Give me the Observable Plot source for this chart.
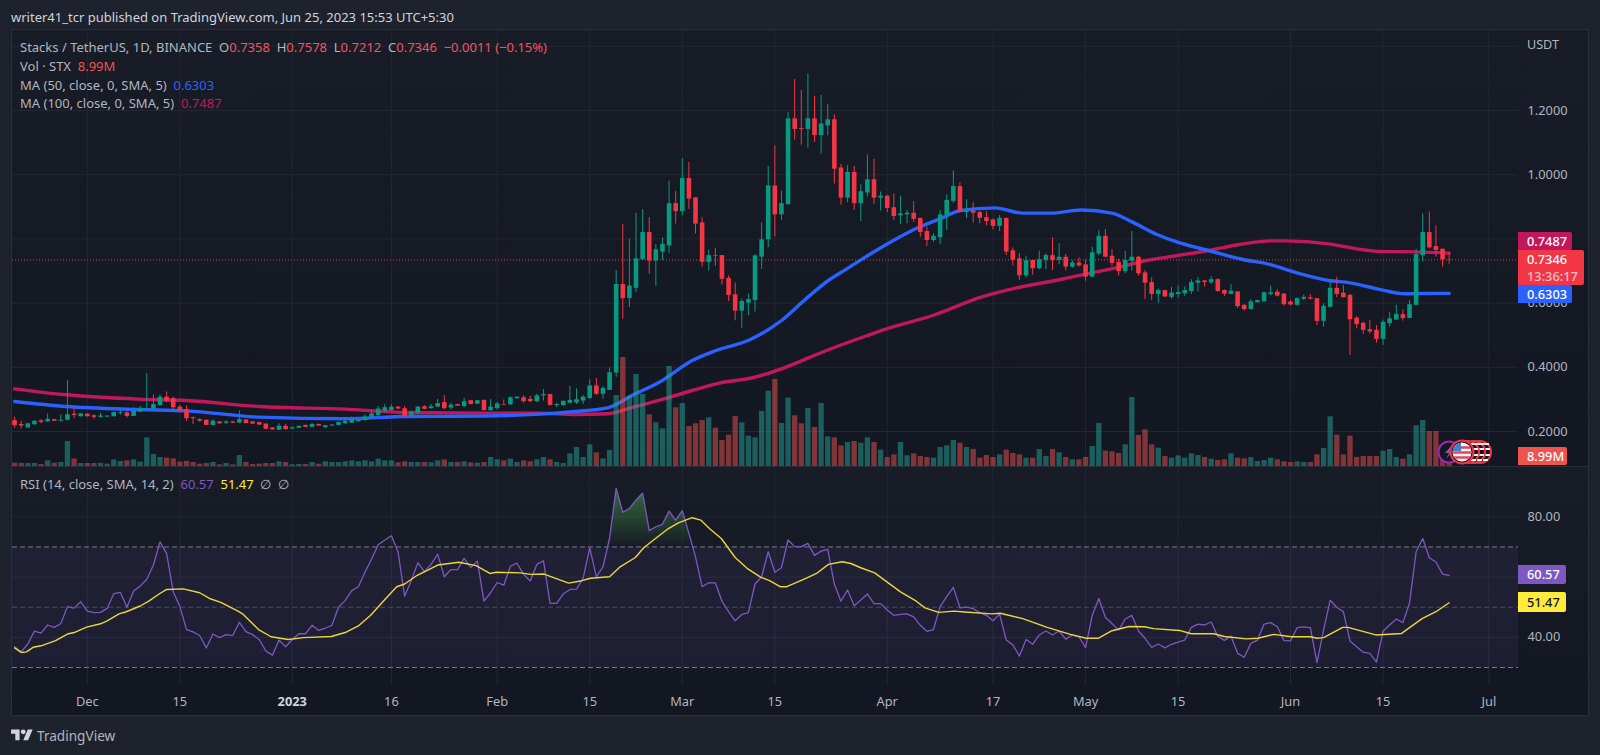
<!DOCTYPE html>
<html><head><meta charset="utf-8">
<script src="https://cdn.jsdelivr.net/npm/d3@7"></script>
<script src="https://cdn.jsdelivr.net/npm/@observablehq/plot@0.6"></script>
<style>
html,body{margin:0;padding:0;background:#1E222D;width:1600px;height:755px;overflow:hidden;font-family:"Noto Sans",sans-serif}
#stage{position:relative;width:1600px;height:755px;overflow:hidden}
.abs{position:absolute}
.plot{position:absolute;left:0}
.lg{position:absolute;left:20px;font-size:13px;line-height:18px;color:#b2b5be;white-space:pre}
.tag{position:absolute;left:1518px;color:#fff;font-size:12.8px;font-weight:500;border-radius:0 2px 2px 0;padding-left:9px;box-sizing:border-box}
</style></head><body><div id="stage"></div>
<script>
const firstDay = "2022-11-20";
const opens = [.234,.222,.211,.221,.233,.230,.237,.232,.235,.254,
.246,.254,.249,.244,.245,.246,.256,.258,.247,.260,
.268,.269,.281,.307,.302,.276,.268,.243,.237,.235,
.219,.230,.226,.230,.226,.236,.230,.228,.223,.211,
.204,.216,.208,.210,.219,.213,.222,.212,.217,.219,
.224,.226,.230,.234,.243,.250,.263,.265,.276,.271,
.249,.257,.277,.271,.276,.290,.273,.284,.278,.296,
.285,.297,.265,.271,.284,.283,.302,.305,.300,.293,
.311,.315,.281,.281,.288,.289,.295,.303,.342,.316,
.328,.382,.658,.614,.646,.735,.820,.731,.759,.778,
.910,.885,.988,.928,.850,.727,.748,.748,.677,.626,
.575,.600,.608,.743,.797,.965,.875,.907,1.174,1.144,
1.141,1.174,1.122,1.152,1.171,1.021,.927,1.007,.910,.943,
.984,.927,.933,.897,.872,.875,.880,.864,.823,.795,
.804,.872,.917,.963,.882,.886,.882,.866,.859,.839,
.864,.763,.738,.685,.733,.707,.733,.748,.733,.743,
.712,.725,.719,.681,.753,.808,.746,.727,.698,.730,
.743,.694,.664,.627,.639,.618,.627,.629,.636,.662,
.669,.663,.673,.639,.627,.635,.593,.580,.601,.604,
.627,.634,.628,.603,.593,.612,.616,.614,.543,.587,
.646,.631,.624,.553,.537,.517,.515,.487,.536,.547,
.564,.552,.593,.748,.820,.776,.768,.7358];
const closes = [.218,.217,.224,.232,.228,.238,.232,.235,.252,.250,
.255,.246,.244,.248,.248,.259,.258,.247,.263,.271,
.270,.284,.307,.294,.274,.263,.240,.240,.232,.219,
.232,.224,.230,.226,.237,.225,.223,.220,.207,.205,
.217,.206,.212,.216,.213,.222,.217,.218,.220,.228,
.231,.236,.236,.245,.255,.270,.274,.276,.270,.248,
.259,.276,.269,.277,.287,.271,.282,.279,.293,.284,
.296,.265,.276,.286,.282,.305,.307,.293,.293,.311,
.315,.281,.284,.294,.297,.299,.307,.342,.316,.334,
.383,.658,.614,.653,.738,.820,.731,.766,.783,.910,
.885,.988,.924,.846,.727,.748,.746,.674,.624,.575,
.605,.611,.747,.797,.965,.875,.910,1.174,1.141,1.141,
1.174,1.122,1.158,1.171,1.017,.927,1.007,.910,.947,.984,
.927,.933,.895,.870,.878,.880,.861,.820,.795,.808,
.875,.920,.963,.883,.885,.880,.864,.854,.839,.864,
.759,.734,.685,.732,.707,.735,.748,.733,.743,.712,
.725,.716,.681,.757,.808,.743,.724,.698,.733,.743,
.691,.662,.627,.639,.619,.631,.633,.639,.664,.669,
.664,.673,.636,.628,.637,.589,.580,.604,.608,.632,
.632,.622,.595,.594,.614,.618,.612,.543,.590,.646,
.627,.617,.548,.533,.515,.510,.487,.540,.551,.565,
.552,.595,.751,.820,.772,.764,.735,.7346];
const highs = [.245,.232,.225,.233,.237,.255,.238,.252,.359,.271,
.256,.255,.252,.257,.249,.260,.267,.261,.274,.278,
.380,.314,.314,.323,.307,.281,.279,.245,.240,.236,
.236,.231,.233,.231,.264,.237,.231,.229,.224,.212,
.224,.222,.213,.217,.220,.225,.223,.219,.221,.229,
.240,.245,.237,.252,.263,.278,.284,.283,.277,.278,
.263,.278,.280,.284,.300,.312,.288,.285,.304,.297,
.297,.298,.299,.291,.298,.308,.308,.311,.309,.316,
.331,.316,.288,.295,.340,.333,.312,.361,.365,.340,
.398,.702,.845,.800,.880,.891,.866,.782,.803,.980,
.948,1.050,1.038,.928,.866,.766,.771,.748,.685,.663,
.613,.628,.751,.850,1.026,1.090,.948,1.194,1.297,1.262,
1.314,1.244,1.247,1.218,1.187,1.032,1.028,1.026,.968,1.062,
1.048,.946,.935,.940,.933,.889,.916,.864,.837,.816,
.889,.937,1.012,.975,.922,.912,.886,.885,.862,.873,
.864,.772,.754,.746,.733,.762,.754,.803,.785,.752,
.733,.741,.733,.774,.826,.829,.766,.737,.761,.823,
.745,.702,.679,.644,.640,.649,.653,.650,.673,.680,
.670,.683,.676,.641,.658,.635,.595,.611,.609,.634,
.653,.642,.630,.608,.617,.625,.626,.614,.598,.668,
.680,.655,.628,.558,.541,.546,.530,.547,.570,.593,
.579,.608,.768,.878,.884,.840,.768,.7578];
const lows = [.210,.208,.210,.220,.224,.229,.231,.231,.233,.240,
.245,.245,.238,.243,.244,.245,.251,.242,.246,.260,
.267,.268,.278,.290,.263,.262,.232,.222,.229,.218,
.218,.223,.222,.225,.225,.224,.222,.219,.206,.204,
.203,.204,.207,.209,.212,.212,.216,.209,.216,.218,
.223,.225,.229,.232,.243,.248,.259,.263,.269,.243,
.247,.251,.268,.270,.275,.268,.267,.278,.274,.283,
.284,.264,.263,.267,.282,.282,.301,.288,.290,.290,
.295,.280,.275,.278,.285,.284,.284,.299,.312,.301,
.328,.369,.550,.586,.633,.733,.690,.652,.733,.754,
.846,.872,.892,.815,.712,.700,.715,.656,.605,.545,
.521,.561,.572,.705,.773,.806,.858,.904,1.108,1.092,
1.082,1.101,1.064,1.121,.971,.905,.913,.889,.854,.930,
.908,.887,.882,.857,.845,.847,.852,.805,.776,.790,
.782,.826,.910,.882,.863,.849,.847,.840,.829,.823,
.748,.716,.671,.678,.687,.704,.704,.702,.720,.700,
.709,.712,.668,.679,.748,.741,.715,.685,.691,.700,
.684,.611,.608,.600,.618,.612,.615,.621,.627,.635,
.650,.658,.634,.621,.626,.583,.575,.579,.600,.602,
.623,.619,.590,.592,.591,.608,.611,.530,.525,.585,
.617,.615,.437,.520,.502,.504,.475,.468,.525,.547,
.544,.551,.592,.728,.769,.743,.712,.7212];
const volumesM = [8,7.2,7.2,7.2,4.8,13.6,8,9.6,60,18.4,7.2,7.2,7.2,7.2,5.6,16,12,13.6,16,10.4,
68.8,28.8,21.6,20,18.4,10.4,12,9.6,5.6,7.2,9.6,4,7.2,4,26.4,9.6,4.8,5.6,7.2,7.2,
11.2,9.6,4,4.8,4.8,9.6,5.6,11.2,9.6,9.6,11.2,13.6,11.2,13.6,11.2,17.6,13.6,13.6,8.8,11.2,
9.6,9.6,9.6,8.8,13.6,16,9.6,9.6,11.2,8.8,8,9.6,21.6,16,13.6,17.6,9.6,13.6,11.2,16,
21.6,16,9.6,7.2,30.4,45.6,21.6,52,32.8,18.4,38.4,170.4,261.6,168.8,220.8,172.8,124,104.8,90.4,240,
140.8,151.2,96,102.4,110.4,116.8,92,62.4,75.2,120,104.8,72.8,68.8,132,180.8,208.8,103.2,164,121.6,102.4,
139.2,93.6,151.2,71.2,68.8,49.6,57.6,60,56,68.8,57.6,39.2,21.6,28,57.6,25.6,30.4,24,21.6,20,
45.6,49.6,62.4,56,45.6,40.8,20,26.4,21.6,28,39.2,31.2,28,20,20,40.8,24,40.8,32.8,21.6,16,16,
21.6,48,103.2,36.8,35.2,31.2,52,165.6,74.4,88,52,44,24,20,25.6,20,30.4,26.4,21.6,17.6,14.4,16,30.4,20,18.4,21.6,12,14.4,
20,16,11.2,9.6,11.2,9.6,9.6,28,43.2,119.2,75.2,28,72.8,21.6,24,24,24,36.8,40.8,21.6,17.6,28,97.6,110.4,84,84,48,8.99];
const rsiValues = [36.9,35.2,37.8,42.1,41.4,44.1,43.3,44.6,50.2,49.7,51.8,48.7,48.2,48.3,49.6,54.5,54.9,50.0,55.4,57.0,
59.3,64.0,71.7,67.8,55.1,50.2,42.6,41.8,40.6,36.5,41.1,39.9,40.9,40.6,45.0,41.9,40.9,39.3,35.5,34.1,
39.1,36.9,39.3,41.2,41.2,44.0,42.3,43.1,44.0,50.0,52.2,55.5,56.8,61.6,66.0,70.7,72.3,73.7,68.4,53.7,
58.8,64.8,61.8,64.2,67.6,60.1,62.5,62.5,66.2,63.2,65.3,52.0,54.8,58.2,57.3,63.6,64.6,60.9,58.7,64.2,
65.4,51.3,51.3,54.4,55.9,56.0,59.6,69.7,60.1,63.4,72.8,89.4,81.5,82.7,85.5,87.8,75.4,76.7,77.5,81.9,
78.9,82.0,74.5,66.7,56.8,58.1,58.1,52.0,48.5,45.5,47.6,48.2,57.7,60.1,68.4,61.6,63.1,72.3,70.1,70.1,
71.2,67.2,68.6,69.2,57.7,52.0,55.7,50.5,52.4,54.4,51.2,51.2,49.1,47.3,47.6,47.8,46.8,44.0,42.0,42.6,
50.2,53.5,56.6,49.8,50.0,49.5,48.2,47.3,45.5,47.7,39.1,37.5,33.8,39.3,37.7,40.8,42.1,40.8,42.1,39.4,
40.8,40.2,36.6,47.2,52.9,46.6,44.6,42.4,46.1,47.3,42.1,39.7,36.7,37.8,36.5,37.7,38.4,39.1,43.3,44.4,
44.1,45.1,40.4,39.0,40.4,34.7,33.4,38.0,39.1,44.4,44.9,43.5,39.0,38.8,43.2,43.5,43.2,31.6,42.4,52.3,
50.0,48.5,38.8,36.9,35.1,34.7,31.8,42.0,44.1,46.1,44.9,51.3,68.4,72.8,66.4,65.0,61.0,60.57];
// moving averages: bar number and value as read at visible bends of each line
const ma50Bars = [0,7.8,18.7,26,37,50,59.3,70.8,79.5,84.8,89.7,93.6,97.8,102.5,106.1,111.3,116,119.7,123.3,125.9,129.5,133.2,136.3,140,143.1,148.3,152.5,156.7,161.3,166,169.1,172.8,175.9,180.6,185.8,189.5,193.6,198.8,202,206.1,210.3,213.4,217];
const ma50Vals = [.2935,.2779,.2686,.2644,.2447,.2395,.2467,.2478,.2540,.2623,.2737,.3143,.3568,.4212,.4524,.4866,.5458,.6133,.6735,.7068,.7535,.7981,.8314,.8626,.8885,.8968,.8802,.8802,.8900,.8802,.8522,.8137,.7899,.7639,.7359,.7224,.6964,.6704,.6632,.6445,.6289,.6299,.6303];
const ma100Bars = [0,7.8,18.7,26,37,50,59.3,70.8,79.5,84.8,89.7,93.6,98.8,102.5,106.6,111.8,116,122.8,129,132.7,138.9,146.2,151.4,158.2,162.9,167.1,171.2,175.9,180.6,185.3,190,192.1,198.8,203,206.6,211.9,217];
const ma100Vals = [.3329,.3143,.3008,.2966,.2779,.2696,.2592,.2571,.2571,.2530,.2551,.2758,.3049,.3277,.3506,.3682,.3953,.4524,.4991,.5251,.5614,.6185,.6466,.6735,.6943,.7120,.7328,.7483,.7639,.7826,.7940,.7940,.7847,.7691,.7608,.7597,.7556];
const rsiMaBars = [0,1,1.8,2.8,4,6.2,8,9,10.9,13,14,15.8,16.9,19,20.3,21.8,23,25.5,28,29.6,31.2,33.8,34.6,36.9,38.8,41.4,43.7,47.9,50,52,53.9,55.7,57.8,59,60.9,62.5,64,67.2,69.8,71.9,72.9,76.5,78.1,80.1,83.8,85.8,87.1,90,91.6,93.9,95.2,98.9,100.4,102.5,103.8,105.1,106.9,109,110.8,112.9,114.2,115.8,116.8,119.7,121.3,123.1,125.2,126.5,128,130.1,134,136.4,137.7,139.8,142.1,143.7,147.8,149.1,152.5,156.2,159.7,162.1,163.9,166,168.6,170.9,172.3,176.2,178,181.4,183,186.3,188.1,190.5,193.1,196,197,198,200.9,201.7,205.9,209.8,212.9,215,217];
const rsiMaVals = [36.5,35.0,35.2,36.7,37.2,38.9,41.1,41.6,43.4,44.5,45.5,47.8,48.5,50.4,52,54.3,55.9,56.1,54.8,52.8,51.6,48.7,47.6,42.6,40.2,39.3,39.9,40.3,41.6,43.8,47.4,51.8,56.8,57.7,60.6,62.3,64.0,64.9,63.8,61.2,61.6,61.4,60.9,61.0,58,58.8,59.6,60.1,63.4,66.5,69.8,76.1,78,79.7,78.9,76.1,72.8,66.5,62.9,59.9,58.8,56.8,56.8,59.6,61.2,64.2,65.1,64.5,63.1,61.4,55.1,52.0,49.8,48.3,48.7,48.4,47.8,48.0,46.2,43.3,41.0,39.7,39.7,42.2,43.6,43.5,42.9,42.3,41.2,41.2,40.3,39.5,39.7,41.0,40.2,40.2,39.7,39.9,43.3,43.3,40.8,41.3,46.2,48.5,51.47];
const tickDays = ["2022-12-01","2022-12-15","2023-01-01","2023-01-16","2023-02-01","2023-02-15","2023-03-01","2023-03-15","2023-04-01","2023-04-17","2023-05-01","2023-05-15","2023-06-01","2023-06-15","2023-07-01"];
const tickLabels = ["Dec","15","2023","16","Feb","15","Mar","15","Apr","17","May","15","Jun","15","Jul"];
const priceTicks = [.2,.4,.6,.8,1,1.2];
const priceGrid = [.2,.4,.6,.8,1,1.2,1.4];
const rsiTicks = [80,40];
const rsiGrid = [80,60,40];
const currentPrice = 0.7346;

const GREEN="#089981", RED="#F23645", GRID="#232733", TXT="#b2b5be";
const FONT='"Noto Sans",sans-serif';
const dayOf = i => new Date(Date.parse(firstDay+"T00:00:00Z") + i*864e5);
const tickDates = tickDays.map(s => new Date(s+"T00:00:00Z"));
const labelOf = d => tickLabels[tickDates.findIndex(t => +t === +d)];
const bars = opens.map((o,i) => ({date:dayOf(i),o,c:closes[i],h:highs[i],l:lows[i],v:volumesM[i],rsi:rsiValues[i]}));
const up = bars.filter(b => b.c >= b.o), down = bars.filter(b => b.c < b.o);
const ma50 = ma50Bars.map((b,i) => ({date:dayOf(b),v:ma50Vals[i]}));
const ma100 = ma100Bars.map((b,i) => ({date:dayOf(b),v:ma100Vals[i]}));
const rsiMa = rsiMaBars.map((b,i) => ({date:dayOf(b),v:rsiMaVals[i]}));

const xScale = {type:"utc",domain:[dayOf(0),dayOf(230)],range:[14.08,14.08+230*6.611]};
const base = {width:1600,marginLeft:12,marginRight:82,marginTop:0,x:xScale,
  style:{background:"transparent",fontFamily:FONT,fontSize:"12.8px",overflow:"visible"}};
const stage = document.getElementById("stage");
function place(node,top){node.classList.add("plot");node.style.top=top+"px";stage.appendChild(node);}

// frame and pane backgrounds
stage.insertAdjacentHTML("beforeend",`
<div class="abs" style="left:11px;top:29px;width:1578px;height:687px;border:1px solid #2a2e39;box-sizing:border-box"></div>
<div class="abs" style="left:12px;top:30px;width:1576px;height:436px;background:linear-gradient(#181c27,#131722)"></div>
<div class="abs" style="left:12px;top:466px;width:1576px;height:1px;background:#2a2e39"></div>
<div class="abs" style="left:12px;top:467px;width:1576px;height:248px;background:linear-gradient(#181c27,#131722)"></div>`);

const price = Plot.plot({...base,x:{...xScale,axis:null},height:436,marginBottom:0,
  y:{domain:[.2,1.4],range:[401,15.8]},
  marks:[
    Plot.gridX({ticks:tickDates,stroke:GRID,strokeOpacity:1}),
    Plot.gridY({ticks:priceGrid,stroke:GRID,strokeOpacity:1}),
    Plot.line(ma100,{x:"date",y:"v",stroke:"#C2185B",strokeWidth:3.4,curve:"monotone-x"}),
    Plot.line(ma50,{x:"date",y:"v",stroke:"#2962FF",strokeWidth:3.4,curve:"monotone-x"}),
    Plot.ruleY([currentPrice],{stroke:RED,strokeDasharray:"1,2"}),
    Plot.ruleX(up,{x:"date",y1:"l",y2:"h",stroke:GREEN,strokeWidth:1}),
    Plot.ruleX(down,{x:"date",y1:"l",y2:"h",stroke:RED,strokeWidth:1}),
    Plot.ruleX(up,{x:"date",y1:"o",y2:"c",stroke:GREEN,strokeWidth:4.6}),
    Plot.ruleX(down,{x:"date",y1:"o",y2:"c",stroke:RED,strokeWidth:4.6}),
    Plot.axisY({anchor:"right",ticks:priceTicks,tickFormat:d=>d.toFixed(4),tickSize:0,tickPadding:9,fill:TXT,textAnchor:"start",label:null})
  ]});
place(price,30);

const volume = Plot.plot({...base,x:{...xScale,axis:null},height:436,marginBottom:0,
  y:{domain:[0,300],range:[436,311],axis:null},
  marks:[
    Plot.ruleX(up,{x:"date",y1:0,y2:"v",stroke:"#26a69a",strokeOpacity:.5,strokeWidth:5.3}),
    Plot.ruleX(down,{x:"date",y1:0,y2:"v",stroke:"#ef5350",strokeOpacity:.5,strokeWidth:5.3})
  ]});
place(volume,30);

const rsiPlot = Plot.plot({...base,height:249,marginBottom:31,
  y:{domain:[30,80],range:[200,49.3]},
  marks:[
    () => {const s=d3.create("svg:defs");const g=s.append("linearGradient").attr("id","rsiGreen").attr("x1",0).attr("x2",0).attr("y1",0).attr("y2",1);
      g.append("stop").attr("offset",0).attr("stop-color","#4caf50").attr("stop-opacity",.55);
      g.append("stop").attr("offset",1).attr("stop-color","#4caf50").attr("stop-opacity",0);return s.node();},
    Plot.gridX({ticks:tickDates,stroke:GRID,strokeOpacity:1}),
    Plot.gridY({ticks:rsiGrid,stroke:GRID,strokeOpacity:1}),
    Plot.rectY([0],{y1:30,y2:70,fill:"#7E57C2",fillOpacity:.1}),
    Plot.ruleY([70,30],{stroke:"#787b86",strokeDasharray:"5,3"}),
    Plot.ruleY([50],{stroke:"#787b86",strokeOpacity:.5,strokeDasharray:"5,3"}),
    Plot.areaY(bars,{x:"date",y1:70,y2:d=>Math.max(d.rsi,70),fill:"url(#rsiGreen)"}),
    Plot.line(bars,{x:"date",y:"rsi",stroke:"#7E57C2",strokeWidth:1.3}),
    Plot.line(rsiMa,{x:"date",y:"v",stroke:"#EBD736",strokeWidth:1.4}),
    Plot.axisY({anchor:"right",ticks:rsiTicks,tickFormat:d=>d.toFixed(2),tickSize:0,tickPadding:9,fill:TXT,textAnchor:"start",label:null}),
    Plot.axisX({anchor:"bottom",ticks:tickDates.filter(t=>labelOf(t)!=="2023"),tickFormat:labelOf,tickSize:0,tickPadding:11,fill:TXT,label:null}),
    Plot.axisX({anchor:"bottom",ticks:tickDates.filter(t=>labelOf(t)==="2023"),tickFormat:labelOf,tickSize:0,tickPadding:11,fill:"#d1d4dc",fontWeight:"bold",label:null})
  ]});
place(rsiPlot,467);

// header, legends
function lg(top,html){stage.insertAdjacentHTML("beforeend",`<div class="lg" style="top:${top-9}px">${html}</div>`);}
stage.insertAdjacentHTML("beforeend",`<div class="abs" style="left:11px;top:7px;font-size:13px;line-height:20px;color:#d1d4dc;white-space:pre">writer41_tcr published on TradingView.com, Jun 25, 2023 15:53 UTC+5:30</div>`);
const v=(c,t)=>`<span style="color:${c}">${t}</span>`, R="#F7525F";
lg(47,`Stacks / TetherUS, 1D, BINANCE  O${v(R,"0.7358")}  H${v(R,"0.7578")}  L${v(R,"0.7212")}  C${v(R,"0.7346")}  ${v(R,"−0.0011 (−0.15%)")}`);
lg(66,`Vol · STX  ${v("#EF5350","8.99M")}`);
lg(85,`MA (50, close, 0, SMA, 5)  ${v("#2962FF","0.6303")}`);
lg(103,`MA (100, close, 0, SMA, 5)  ${v("#C2185B","0.7487")}`);
lg(484,`RSI (14, close, SMA, 14, 2)  ${v("#7E57C2","60.57")}  ${v("#FFEB3B","51.47")}  ∅  ∅`);
stage.insertAdjacentHTML("beforeend",`<div class="abs" style="left:1527px;top:36px;font-size:12.6px;line-height:18px;color:${TXT}">USDT</div>`);

// last-value tags on the scale
function tag(top,h,w,bg,color,html){stage.insertAdjacentHTML("beforeend",`<div class="tag" style="top:${top}px;height:${h}px;width:${w}px;background:${bg};color:${color};line-height:${h}px">${html}</div>`);}
tag(232,18,54,"#C2185B","#fff","0.7487");
tag(285,18,54,"#2962FF","#fff","0.6303");
stage.insertAdjacentHTML("beforeend",`<div class="tag" style="top:250px;height:35px;width:66px;background:#F23645;line-height:17px;padding-top:1px">0.7346<br><span style="color:#fbc0c6">13:36:17</span></div>`);
tag(447,18,49,"#EF5350","#fff","8.99M");
tag(565,19,48,"#7E57C2","#fff","60.57");
tag(592,20,48,"#FFEB3B","#131722","51.47");

// event icons and logo
const ring=(x)=>`<g transform="translate(${x},452)"><circle r="11" fill="#131722" stroke="#F23645" stroke-width="2"/><path d="M3 -8H9M3 -3H10M3 3H10M3 8H8" stroke="#eee" stroke-width="2"/></g>`;
stage.insertAdjacentHTML("beforeend",`<svg class="abs" style="left:1430px;top:435px" width="70" height="34" viewBox="1430 435 70 34">
<circle cx="1449" cy="452" r="10.5" fill="#131722" stroke="#9C27B0" stroke-width="2"/><path d="M1452 445l-7 8h4l-3 6 8-9h-4z" fill="#7E57C2"/>
${ring(1480)}${ring(1474)}${ring(1468)}
<clipPath id="fl"><circle cx="1462" cy="452" r="9.5"/></clipPath>
<circle cx="1462" cy="452" r="11.5" fill="#131722" stroke="#F23645" stroke-width="2"/>
<g clip-path="url(#fl)"><rect x="1452" y="442" width="20" height="20" fill="#f5f5f5"/><path d="M1452 447.5h20M1452 452.5h20M1452 457.5h20" stroke="#E2465A" stroke-width="2.6"/><rect x="1452" y="442" width="9" height="9" fill="#3f7fd6"/></g></svg>
<svg class="abs" style="left:11px;top:727px" width="22" height="17" viewBox="0 0 36 28"><path fill="#d1d4dc" d="M14 22H7V11H0V4h14v18zM28 22h-8l7.5-18h8L28 22z"/><circle cx="20" cy="8" r="4" fill="#d1d4dc"/></svg>
<div class="abs" style="left:37px;top:726px;font-size:13.6px;line-height:20px;color:#b2b5be">TradingView</div>`);
</script></body></html>
